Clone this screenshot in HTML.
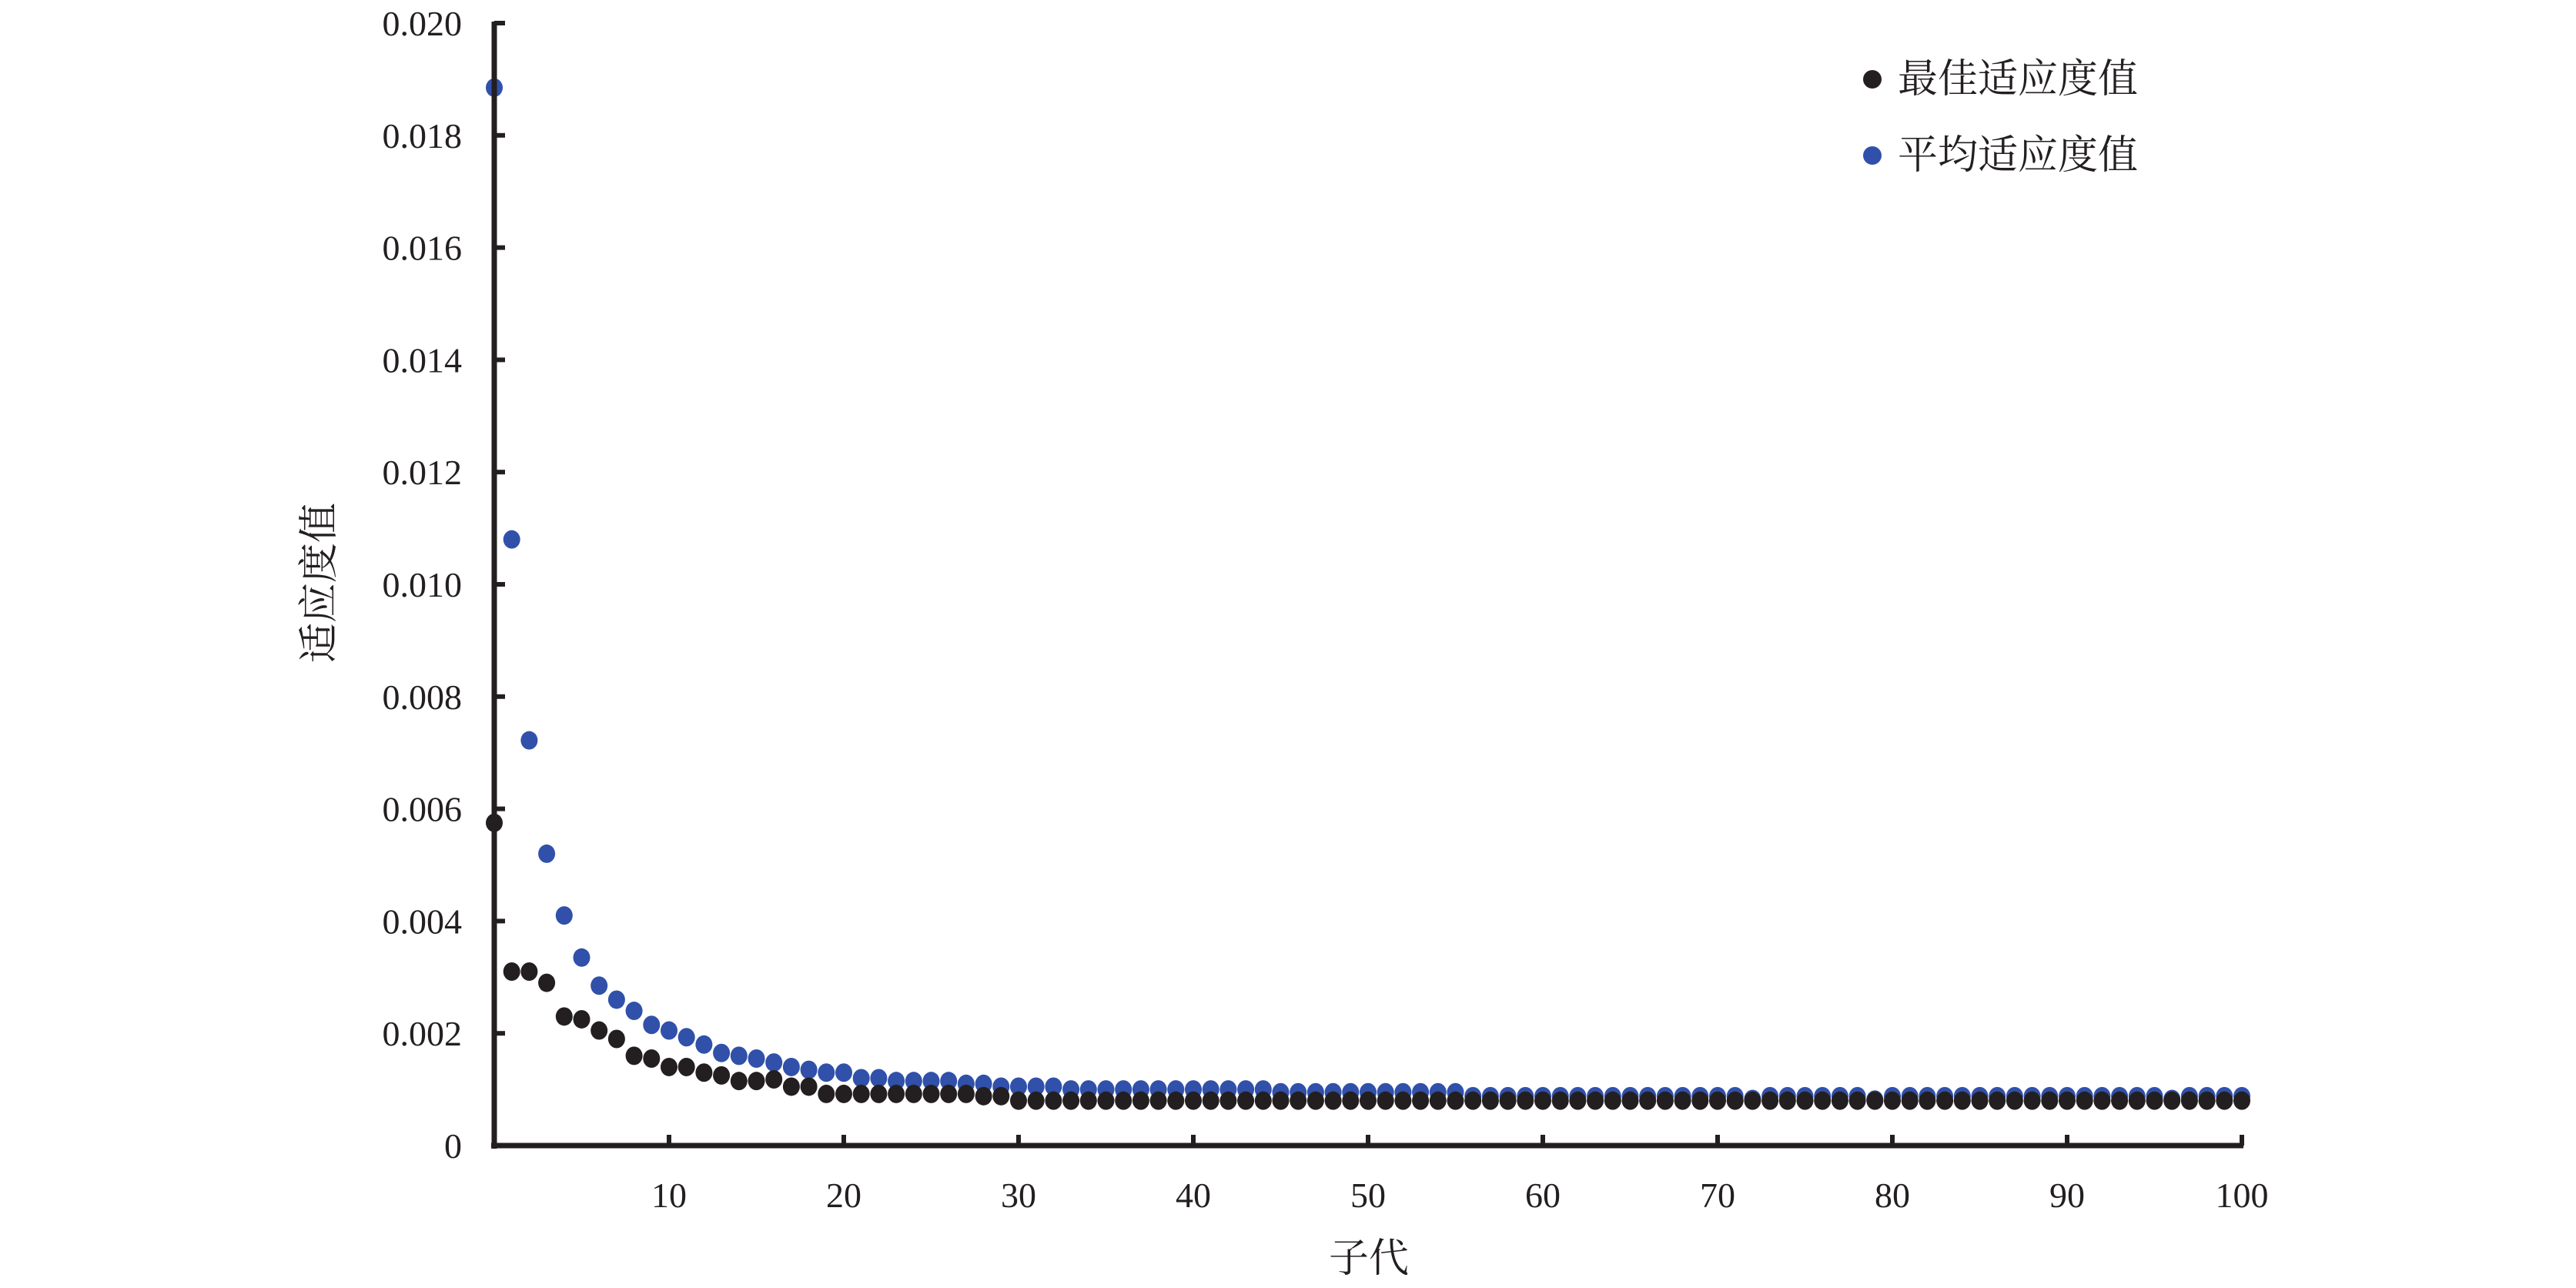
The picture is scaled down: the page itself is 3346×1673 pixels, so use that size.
<!DOCTYPE html>
<html><head><meta charset="utf-8">
<style>
html,body{margin:0;padding:0;background:#fff;}
svg{display:block;}
text{font-family:"Liberation Serif","Noto Serif CJK SC",serif;fill:#231f20;}
</style></head>
<body>
<svg id="chart" width="3346" height="1673" viewBox="0 0 3346 1673" xmlns="http://www.w3.org/2000/svg">
  <g id="marks"></g>
  <g id="axes"></g>
  <text x="1778" y="1652" font-size="52" text-anchor="middle">子代</text>
  <text x="0" y="0" font-size="52" text-anchor="middle" transform="translate(432,757) rotate(-90)">适应度值</text>
  <g>
    <circle cx="2432" cy="103" r="12" fill="#231f20"/>
    <text x="2465" y="120" font-size="52">最佳适应度值</text>
    <circle cx="2432" cy="202" r="12" fill="#3050aa"/>
    <text x="2465" y="219" font-size="52">平均适应度值</text>
  </g>
</svg>
<script>
const xTicks = [10,20,30,40,50,60,70,80,90,100];
const yTicks = [0,0.002,0.004,0.006,0.008,0.010,0.012,0.014,0.016,0.018,0.020];
const yTickLabels = ["0","0.002","0.004","0.006","0.008","0.010","0.012","0.014","0.016","0.018","0.020"];
const bestFitness = [0.00575,0.0031,0.0031,0.0029,0.0023,0.00225,0.00205,0.0019,0.0016,0.00155,0.0014,0.0014,0.0013,0.00125,0.00115,0.00115,0.00118,0.00105,0.00105,0.00092,0.00092,0.00092,0.00092,0.00092,0.00092,0.00092,0.00092,0.00092,0.00088,0.00088,
0.0008,0.0008,0.0008,0.0008,0.0008,0.0008,0.0008,0.0008,0.0008,0.0008,0.0008,0.0008,0.0008,0.0008,0.0008,0.0008,0.0008,0.0008,0.0008,0.0008,
0.0008,0.0008,0.0008,0.0008,0.0008,0.0008,0.0008,0.0008,0.0008,0.0008,0.0008,0.0008,0.0008,0.0008,0.0008,0.0008,0.0008,0.0008,0.0008,0.0008,
0.0008,0.0008,0.0008,0.0008,0.0008,0.0008,0.0008,0.0008,0.0008,0.0008,0.0008,0.0008,0.0008,0.0008,0.0008,0.0008,0.0008,0.0008,0.0008,0.0008,
0.0008,0.0008,0.0008,0.0008,0.0008,0.0008,0.0008,0.0008,0.0008,0.0008,0.0008];
const meanFitness = [0.01885,0.0108,0.00722,0.0052,0.0041,0.00335,0.00285,0.0026,0.0024,0.00215,0.00205,0.00193,0.0018,0.00165,0.0016,0.00155,0.00148,0.0014,0.00135,0.0013,0.0013,0.0012,0.0012,0.00115,0.00115,0.00115,0.00115,0.0011,0.0011,0.00105,
0.00105,0.00105,0.00105,0.001,0.001,0.001,0.001,0.001,0.001,0.001,0.001,0.001,0.001,0.001,0.001,0.00095,0.00095,0.00095,0.00095,0.00095,
0.00095,0.00095,0.00095,0.00095,0.00095,0.00095,0.00088,0.00088,0.00088,0.00088,0.00088,0.00088,0.00088,0.00088,0.00088,0.00088,0.00088,0.00088,0.00088,0.00088,
0.00088,0.00088,0.00083,0.00088,0.00088,0.00088,0.00088,0.00088,0.00088,0.00082,0.00088,0.00088,0.00088,0.00088,0.00088,0.00088,0.00088,0.00088,0.00088,0.00088,
0.00088,0.00088,0.00088,0.00088,0.00088,0.00088,0.00083,0.00088,0.00088,0.00088,0.00088];

const NS = "http://www.w3.org/2000/svg";
const X0 = 642, X1 = 2912, Y0 = 1488, Y1 = 30;
function xScale(v){ return X0 + (v/100)*(X1-X0); }
function yScale(v){ return Y0 - (v/0.02)*(Y0-Y1); }
function mk(tag, attrs, parent){
  const e = document.createElementNS(NS, tag);
  for (const k in attrs) e.setAttribute(k, attrs[k]);
  parent.appendChild(e);
  return e;
}
const axes = document.getElementById('axes');
const marks = document.getElementById('marks');

const yAxis = mk('line',{x1:X0,y1:Y1-2,x2:X0,y2:Y0+4,stroke:'#231f20','stroke-width':7},axes);


const xAxis = mk('line',{x1:X0-4,y1:Y0,x2:X1+2,y2:Y0,stroke:'#231f20','stroke-width':7},axes);



yTicks.forEach((t,i)=>{
  const y = yScale(t);
  const tk = mk('line',{x1:X0,y1:y,x2:X0+14,y2:y,stroke:'#231f20','stroke-width':6},axes);
  
  
  const lb = mk('text',{x:600,y:y+16,'font-size':46,'text-anchor':'end'},axes);
  lb.textContent = yTickLabels[i];
  
  
});
xTicks.forEach(t=>{
  const x = xScale(t);
  const tk = mk('line',{x1:x,y1:Y0,x2:x,y2:Y0-14,stroke:'#231f20','stroke-width':6},axes);
  
  
  const lb = mk('text',{x:x,y:1568,'font-size':46,'text-anchor':'middle'},axes);
  lb.textContent = String(t);
  
  
});

meanFitness.forEach((v,i)=>{
  const c = mk('ellipse',{cx:xScale(i),cy:yScale(v),rx:11,ry:12,fill:'#3050aa'},marks);
  
  
});
bestFitness.forEach((v,i)=>{
  const c = mk('ellipse',{cx:xScale(i),cy:yScale(v),rx:11,ry:12,fill:'#231f20'},marks);
  
  
});
</script>
</body></html>
